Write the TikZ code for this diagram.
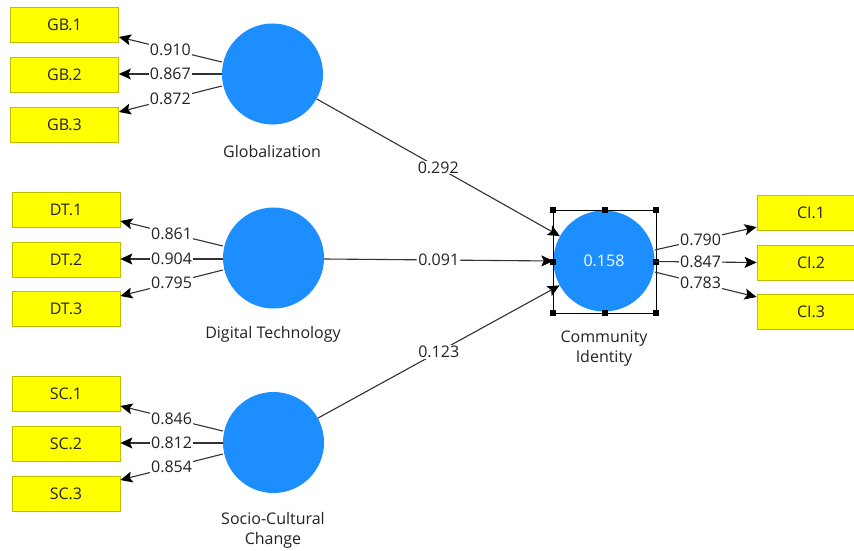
\documentclass[tikz,border=0pt]{standalone}
\usepackage{fontspec}
\setmainfont{Open Sans}
\usetikzlibrary{arrows.meta}
\definecolor{lvblue}{RGB}{28,142,255}
\definecolor{indyellow}{RGB}{255,255,0}
\definecolor{indborder}{RGB}{190,190,0}
\definecolor{txt}{RGB}{35,35,35}
\definecolor{edge}{RGB}{50,50,50}
\begin{document}
\begin{tikzpicture}[x=1pt,y=-1pt,
  font=\fontsize{16}{20}\selectfont,
  lv/.style={circle,fill=lvblue,minimum size=101pt,inner sep=0pt},
  ind/.style={rectangle,fill=indyellow,draw=indborder,line width=0.8pt,minimum width=108pt,minimum height=35pt,inner sep=0pt,text=txt},
  lbl/.style={text=txt,align=center,inner sep=0pt},
  conn/.style={draw=edge,line width=1.1pt,-{Stealth[length=12pt,width=11pt,inset=2.5pt,color=black]}},
  val/.style={fill=white,text=txt,inner sep=1pt},
  handle/.style={rectangle,fill=black,minimum size=6pt,inner sep=0pt}]
\useasboundingbox (0,0) rectangle (854,551);
\fill[white] (0,0) rectangle (854,551);
% latent variables
\node[lv] (GB) at (272.5,74) {};
\node[lv] (DT) at (273.5,258) {};
\node[lv] (SC) at (273.5,442.5) {};
\node[lv,text=white] (CI) at (604,261) {0.158};
% labels
\node[lbl] (GBl) at (272,151) {Globalization};
\node[lbl] (DTl) at (273,334) {Digital Technology};
\node[lbl] (SCl) at (273,530) {Socio-Cultural\\Change};
\node[lbl] (CIl) at (604,349) {Community\\Identity};
% indicators
\node[ind] (GB1) at (64.5,25) {GB.1};
\node[ind] (GB2) at (64.5,75) {GB.2};
\node[ind] (GB3) at (64.5,125) {GB.3};
\node[ind] (DT1) at (66,209.5) {DT.1};
\node[ind] (DT2) at (66,259.5) {DT.2};
\node[ind] (DT3) at (66,309) {DT.3};
\node[ind] (SC1) at (66,394) {SC.1};
\node[ind] (SC2) at (66,443.5) {SC.2};
\node[ind] (SC3) at (66,493.5) {SC.3};
\node[ind] (CI1) at (811,213) {CI.1};
\node[ind] (CI2) at (811,262.5) {CI.2};
\node[ind] (CI3) at (811,312) {CI.3};
% selection frame
\draw[black,line width=0.8pt] (553,210) rectangle (656,313);
\foreach \hx/\hy [count=\i] in {553/210,604.5/210,656/210,553/261.5,656/261.5,553/313,604.5/313,656/313}
  \node[handle] (h\i) at (\hx,\hy) {};
% outer loadings
\path[conn] (GB.west |- 0,62) -- node[val,pos=0.5]{0.910} (GB1.east |- 0,37);
\path[conn] (GB.west |- 0,74) -- node[val,pos=0.5]{0.867} (GB2.east |- 0,74);
\path[conn] (GB.west |- 0,86) -- node[val,pos=0.5]{0.872} (GB3.east |- 0,112);
\path[conn] (DT.west |- 0,246) -- node[val,pos=0.5]{0.861} (DT1.east |- 0,221);
\path[conn] (DT.west |- 0,259) -- node[val,pos=0.5]{0.904} (DT2.east |- 0,259);
\path[conn] (DT.west |- 0,270) -- node[val,pos=0.5]{0.795} (DT3.east |- 0,296);
\path[conn] (SC.west |- 0,431) -- node[val,pos=0.5]{0.846} (SC1.east |- 0,406);
\path[conn] (SC.west |- 0,443) -- node[val,pos=0.5]{0.812} (SC2.east |- 0,443);
\path[conn] (SC.west |- 0,454) -- node[val,pos=0.5]{0.854} (SC3.east |- 0,480);
\path[conn] (CI.east |- 0,250) -- node[val,pos=0.45]{0.790} (CI1.west |- 0,227);
\path[conn] (CI.east |- 0,261.5) -- node[val,pos=0.45]{0.847} (CI2.west |- 0,262.5);
\path[conn] (CI.east |- 0,272) -- node[val,pos=0.45]{0.783} (CI3.west |- 0,297);
% inner model
\path[conn] (GB) -- node[val,pos=0.5]{0.292} (CI);
\path[conn] (DT.east |- 0,259) -- node[val,pos=0.5]{0.091} (CI.west |- 0,261);
\path[conn] (SC) -- node[val,pos=0.5]{0.123} (CI);
\end{tikzpicture}
\end{document}
